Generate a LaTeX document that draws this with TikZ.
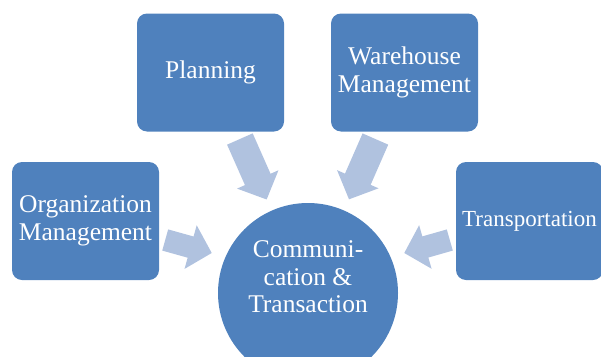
\documentclass[tikz,border=0pt]{standalone}
\usepackage{fontspec}
\setmainfont{LiberationSerif}[Extension=.ttf,UprightFont=*-Regular,BoldFont=*-Bold]
\usetikzlibrary{arrows.meta,calc}
\definecolor{boxblue}{HTML}{4F81BD}
\definecolor{arrowblue}{HTML}{B0C2DF}

\begin{document}
\begin{tikzpicture}[x=1pt,y=-1pt,
            block/.style={rectangle,rounded corners=10pt,fill=boxblue,text=white,align=center,minimum width=147pt,minimum height=118pt,inner sep=0pt,font=\fontsize{25.5}{27.5}\selectfont},
            hubcircle/.style={circle,fill=boxblue,minimum size=180pt,inner sep=0pt},
            flow/.style={draw=arrowblue,line width=#1,-{Triangle[length=22pt,width=44pt]}},flow/.default=28pt]

   \useasboundingbox (0,0) rectangle (601,356);

   \node[block] (plan) at (210.5,72.5) {Planning};
   \node[block] (ware) at (404.5,72.5) {Warehouse\\Management};
   \node[block] (org) at (85.5,221) {Organization\\Management};
   \node[block,font=\fontsize{23}{27.5}\selectfont] (trans) at (529.5,221) {Transportation};

   \node[hubcircle] (comm) at (308,293) {};
   \node[text=white,align=center,font=\fontsize{25.5}{27.5}\selectfont] (commtext) at ([yshift=16pt]comm.center) {Communi-\\cation \&\\Transaction};

   % arrows into the centre
   \draw[flow,shorten <=8pt,shorten >=12pt] (plan) -- (comm);
   \draw[flow,shorten <=8pt,shorten >=12pt] (ware) -- (comm);
   \draw[flow=22pt] ([xshift=6pt,yshift=-19pt]org.east) -- ([xshift=-6pt,yshift=40pt]comm.west);
   \draw[flow=22pt] ([xshift=-6pt,yshift=-19pt]trans.west) -- ([xshift=6pt,yshift=40pt]comm.east);
\end{tikzpicture}
\end{document}
